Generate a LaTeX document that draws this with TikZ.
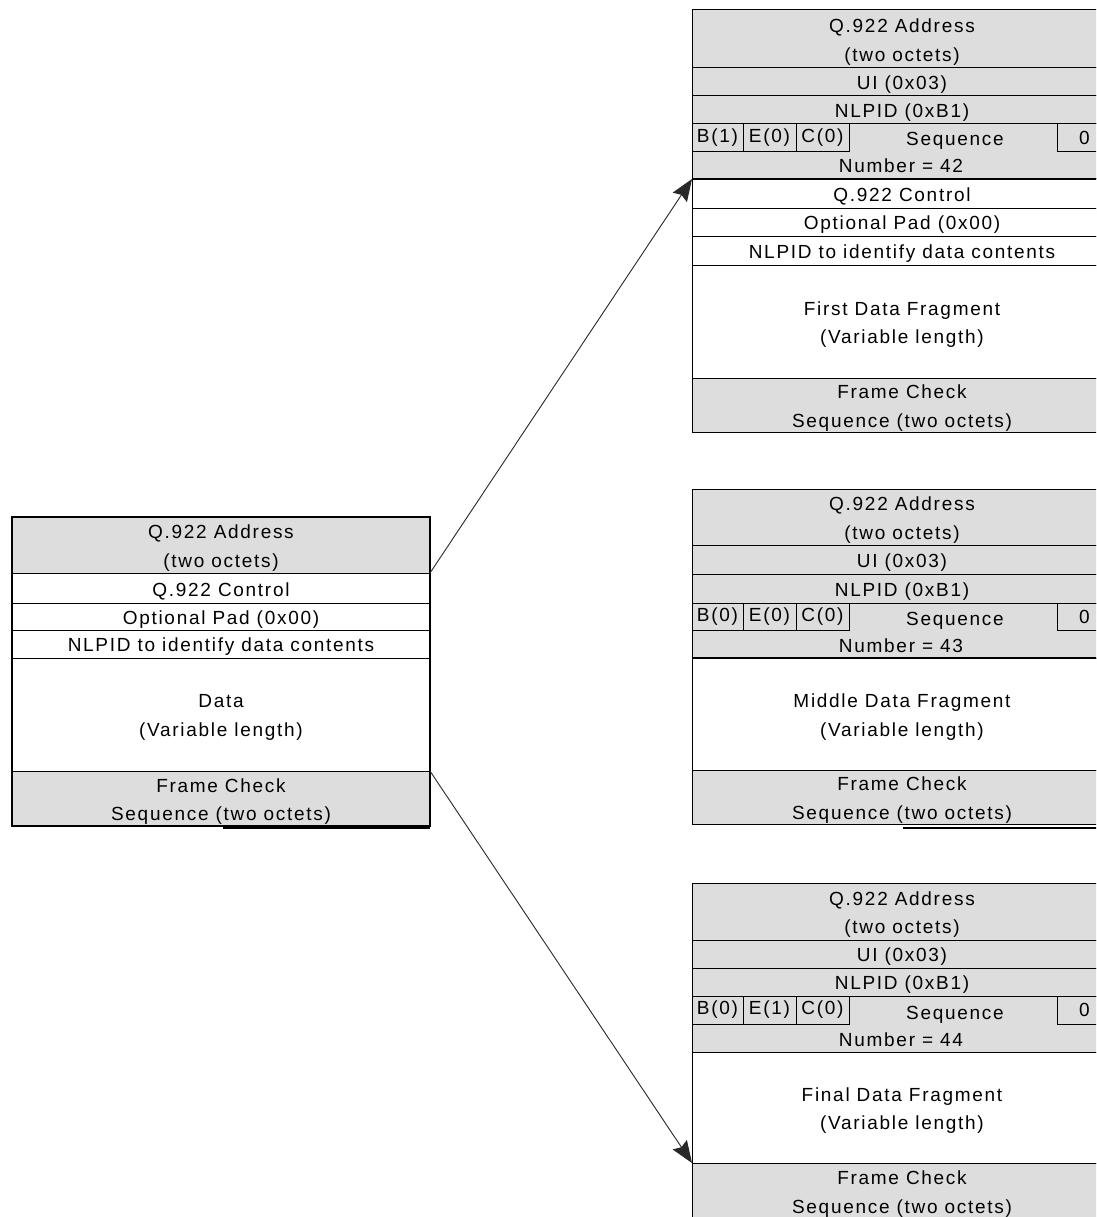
\documentclass[tikz,border=0pt]{standalone}
\usepackage{fontspec}
\newfontfamily\fieldfont[LetterSpace=9]{Liberation Sans}
\usetikzlibrary{arrows.meta}
\definecolor{hdrgray}{RGB}{221,221,221}
\definecolor{linkgray}{RGB}{40,40,40}
\tikzset{
  cellbox/.style={draw=black, line width=1pt, anchor=north west, inner sep=0pt, outer sep=0pt},
  hdr/.style={cellbox, fill=hdrgray},
  pay/.style={cellbox, fill=white},
  txt/.style={inner sep=0pt, align=center, text=black,
    font=\fieldfont\fontsize{19}{28.5}\selectfont},
  flag/.style={cellbox, text=black, font=\fieldfont\fontsize{19}{22}\selectfont},
  lbl/.style={inner sep=0pt, anchor=base, text=black,
    font=\fieldfont\fontsize{19}{22}\selectfont},
  link/.style={draw=linkgray, line width=0.9pt},
  linkhead/.style={-{Stealth[length=22pt, width=17pt, inset=3pt]}},
}
% one field of a frame: style, name, top-left corner, width, height, text
\newcommand\fld[6]{%
  \node[#1, minimum width=#4pt, minimum height=#5pt] (#2) at (#3) {};
  \node[txt] (#2t) at ([yshift=-3pt]#2.center) {#6};}
\begin{document}
\begin{tikzpicture}[x=1pt, y=-1pt]
\useasboundingbox (0,0) rectangle (1096,1217);
\fill[white] (0,0) rectangle (1096,1217);
\begin{scope}
\clip (0,0) rectangle (1096,1217);

% ---------- original frame ----------
\fld{hdr}{La}{12,517}{418}{56}{Q.922 Address\\(two octets)}
\fld{pay}{Lb}{12,573}{418}{30}{Q.922 Control}
\fld{pay}{Lc}{12,603}{418}{27}{Optional Pad (0x00)}
\fld{pay}{Ld}{12,630}{418}{28}{NLPID to identify data contents}
\fld{pay}{Le}{12,658}{418}{113}{Data\\(Variable length)}
\fld{hdr}{Lf}{12,771}{418}{55}{Frame Check\\Sequence (two octets)}
\draw[line width=1.4pt] (La.north west) rectangle (Lf.south east);
\draw[line width=1.2pt] (223,828) -- (430,828);

% ---------- first fragment ----------
\fld{hdr}{R1a}{692,10}{420}{58}{Q.922 Address\\(two octets)}
\fld{hdr}{R1b}{692,68}{420}{28}{UI (0x03)}
\fld{hdr}{R1c}{692,96}{420}{28}{NLPID (0xB1)}
\node[hdr, minimum width=420pt, minimum height=55pt] (R1d) at (692,124) {};
\node[flag, minimum width=51pt, minimum height=28pt] (R1B) at (692,124)  {B(1)};
\node[flag, minimum width=53pt, minimum height=28pt] (R1E) at (743,124)  {E(0)};
\node[flag, minimum width=53pt, minimum height=28pt] (R1C) at (796,124)  {C(0)};
\node[flag, minimum width=55pt, minimum height=28pt] (R1Z) at (1057,124) {0};
\node[lbl] (R1s) at (955,146) {Sequence};
\node[lbl] (R1n) at (901,173) {Number = 42};
\fld{pay}{R1e}{692,179}{420}{29}{Q.922 Control}
\fld{pay}{R1f}{692,208}{420}{28}{Optional Pad (0x00)}
\fld{pay}{R1g}{692,236}{420}{29}{NLPID to identify data contents}
\fld{pay}{R1h}{692,265}{420}{113}{First Data Fragment\\(Variable length)}
\fld{hdr}{R1i}{692,378}{420}{54}{Frame Check\\Sequence (two octets)}
\draw[line width=2.5pt] (R1e.north west) -- (R1e.north east);

% ---------- middle fragment ----------
\fld{hdr}{R2a}{692,489}{420}{56}{Q.922 Address\\(two octets)}
\fld{hdr}{R2b}{692,545}{420}{29}{UI (0x03)}
\fld{hdr}{R2c}{692,574}{420}{29}{NLPID (0xB1)}
\node[hdr, minimum width=420pt, minimum height=55pt] (R2d) at (692,603) {};
\node[flag, minimum width=51pt, minimum height=27pt] (R2B) at (692,603)  {B(0)};
\node[flag, minimum width=53pt, minimum height=27pt] (R2E) at (743,603)  {E(0)};
\node[flag, minimum width=53pt, minimum height=27pt] (R2C) at (796,603)  {C(0)};
\node[flag, minimum width=55pt, minimum height=27pt] (R2Z) at (1057,603) {0};
\node[lbl] (R2s) at (955,625) {Sequence};
\node[lbl] (R2n) at (901,652) {Number = 43};
\fld{pay}{R2e}{692,658}{420}{112}{Middle Data Fragment\\(Variable length)}
\fld{hdr}{R2f}{692,770}{420}{54}{Frame Check\\Sequence (two octets)}
\draw[line width=1.5pt] (R2e.north west) -- (R2e.north east);
\draw[line width=1.2pt] (903,828) -- (1112,828);

% ---------- final fragment ----------
\fld{hdr}{R3a}{692,883}{420}{57}{Q.922 Address\\(two octets)}
\fld{hdr}{R3b}{692,940}{420}{28}{UI (0x03)}
\fld{hdr}{R3c}{692,968}{420}{28}{NLPID (0xB1)}
\node[hdr, minimum width=420pt, minimum height=56pt] (R3d) at (692,996) {};
\node[flag, minimum width=51pt, minimum height=28pt] (R3B) at (692,996)  {B(0)};
\node[flag, minimum width=53pt, minimum height=28pt] (R3E) at (743,996)  {E(1)};
\node[flag, minimum width=53pt, minimum height=28pt] (R3C) at (796,996)  {C(0)};
\node[flag, minimum width=55pt, minimum height=28pt] (R3Z) at (1057,996) {0};
\node[lbl] (R3s) at (955,1019) {Sequence};
\node[lbl] (R3n) at (901,1046) {Number = 44};
\fld{pay}{R3e}{692,1052}{420}{111}{Final Data Fragment\\(Variable length)}
\fld{hdr}{R3f}{692,1163}{420}{56}{Frame Check\\Sequence (two octets)}

% ---------- fragmentation links ----------
\draw[link, linkhead] (La.south east) -- (R1e.north west);
\draw[link, linkhead] (Lf.north east) -- (R3f.north west);
\end{scope}
\end{tikzpicture}
\end{document}
